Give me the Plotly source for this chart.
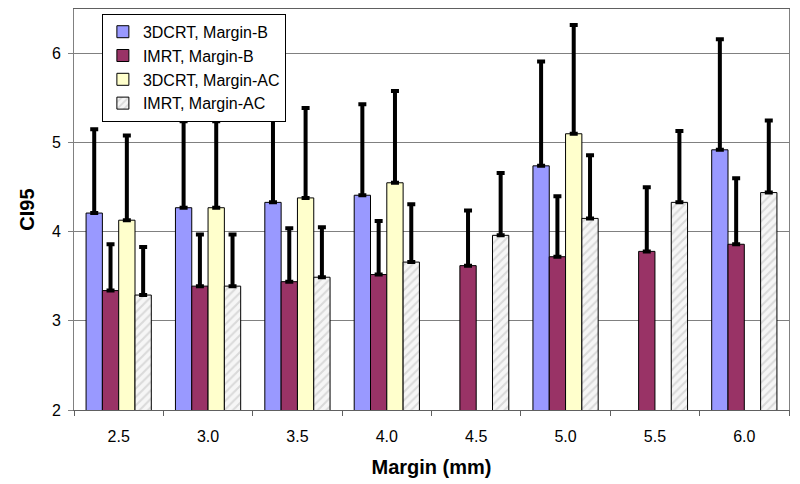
import plotly.graph_objects as go

margins = ["2.5", "3.0", "3.5", "4.0", "4.5", "5.0", "5.5", "6.0"]

dcrt_b = [4.21, 4.27, 4.33, 4.41, None, 4.74, None, 4.92]
dcrt_b_top = [5.15, 5.24, 5.34, 5.43, None, 5.91, None, 6.16]

imrt_b = [3.34, 3.39, 3.44, 3.52, 3.62, 3.72, 3.78, 3.86]
imrt_b_top = [3.86, 3.97, 4.04, 4.12, 4.24, 4.40, 4.50, 4.60]

dcrt_ac = [4.13, 4.27, 4.38, 4.55, None, 5.10, None, None]
dcrt_ac_top = [5.08, 5.24, 5.39, 5.58, None, 6.32, None, None]

imrt_ac = [3.29, 3.39, 3.49, 3.66, 3.96, 4.15, 4.33, 4.44]
imrt_ac_top = [3.83, 3.97, 4.05, 4.31, 4.66, 4.86, 5.13, 5.25]


def plus(vals, tops):
    return [(t - v) if (v is not None and t is not None) else None for v, t in zip(vals, tops)]


series = [
    ("3DCRT, Margin-B", dcrt_b, dcrt_b_top, dict(color="#9999FF")),
    ("IMRT, Margin-B", imrt_b, imrt_b_top, dict(color="#993366")),
    ("3DCRT, Margin-AC", dcrt_ac, dcrt_ac_top, dict(color="#FFFFCC")),
    ("IMRT, Margin-AC", imrt_ac, imrt_ac_top,
     dict(color="#FFFFFF", pattern=dict(shape="/", fgcolor="#BDBDBD", bgcolor="#F6F6F6", size=6, solidity=0.35))),
]

fig = go.Figure()
for name, vals, tops, mk in series:
    mk = dict(mk)
    mk["line"] = dict(color="black", width=1)
    fig.add_trace(go.Bar(
        name=name, x=margins, y=vals, marker=mk,
        error_y=dict(type="data", symmetric=False, array=plus(vals, tops),
                     arrayminus=[0] * len(vals), color="black", thickness=4, width=4),
    ))

fig.update_layout(
    width=800, height=484,
    barmode="group", bargap=0.27, bargroupgap=0,
    paper_bgcolor="white", plot_bgcolor="white",
    margin=dict(l=74, r=11, t=9, b=74),
    font=dict(family="Arial, Liberation Sans, sans-serif", size=16, color="black"),
    legend=dict(x=0.039, y=0.988, xanchor="left", yanchor="top",
                bordercolor="black", borderwidth=1, bgcolor="white",
                font=dict(size=16), tracegroupgap=0, itemwidth=30,
                entrywidth=190, entrywidthmode="pixels"),
)
fig.update_xaxes(
    title=dict(text="<b>Margin (mm)</b>", font=dict(size=20), standoff=15),
    showline=True, linecolor="#606060", mirror=True,
    ticks="outside", tickson="boundaries", ticklen=5, tickcolor="#606060",
    ticklabelstandoff=12, automargin=False,
)
fig.update_yaxes(
    title=dict(text="<b>CI95</b>", font=dict(size=20), standoff=11),
    range=[2, 6.5], dtick=1, tick0=2,
    showline=True, linecolor="#808080", mirror=True,
    showgrid=True, gridcolor="#808080", gridwidth=1,
    ticks="outside", ticklen=5, tickcolor="#808080",
    ticklabelstandoff=4, automargin=False,
)

fig.write_html("out.html", post_script="document.body.style.margin='0';",
               config={"displayModeBar": False})
